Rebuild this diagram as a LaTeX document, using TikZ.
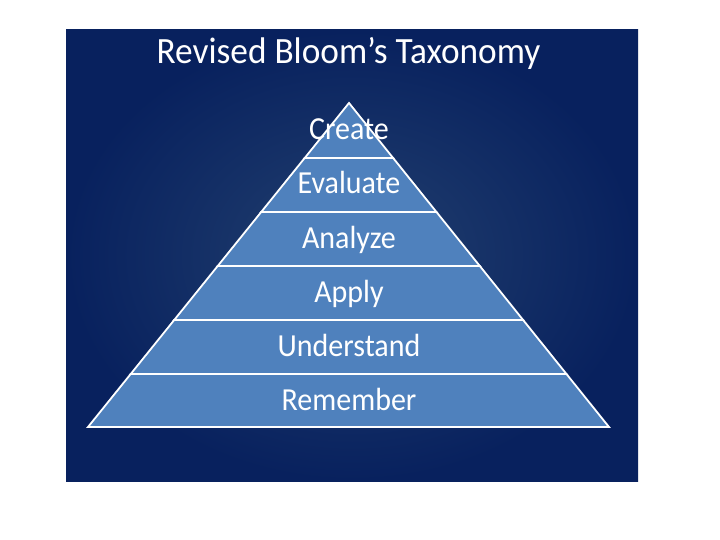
\documentclass[tikz,border=0pt]{standalone}
\usepackage{fontspec}
\setmainfont{Carlito}
\usetikzlibrary{calc}
\definecolor{bgout}{HTML}{08215E}
\definecolor{bgin}{HTML}{22406F}
\definecolor{pyr}{HTML}{4F81BD}
\tikzset{
  layer/.style={fill=pyr,draw=white,line width=1.8pt,line join=miter},
  lbl/.style={text=white,font=\fontsize{30}{31}\selectfont,anchor=base,yscale=1.07,inner sep=0pt},
  ttl/.style={text=white,font=\fontsize{35.3}{36}\selectfont,anchor=base,yscale=1.05,inner sep=0pt}
}
\begin{document}
\begin{tikzpicture}[x=1pt,y=-1pt]
\useasboundingbox (0,0) rectangle (720,540);
\fill[white] (0,0) rectangle (720,540);
\shade[inner color=bgin,outer color=bgout] (66,30) rectangle (638,481);
\node[ttl] (title) at (348.5,63.3) {Revised Bloom’s Taxonomy};
% pyramid layers: apex (349,103), base (88,427)-(609,427)
\coordinate (apex) at (349,103);
\coordinate (bl) at (88,427);
\coordinate (br) at (609,427);
\foreach \i/\ya/\yb in {0/103/158,1/158/212,2/212/266,3/266/320,4/320/374,5/374/427}{
  \pgfmathsetmacro{\ta}{(\ya-103)/324}
  \pgfmathsetmacro{\tb}{(\yb-103)/324}
  \ifnum\i=0
    \draw[layer] ($(apex)!\tb!(bl)$) -- (apex) -- ($(apex)!\tb!(br)$) -- cycle;
  \else
    \draw[layer] ($(apex)!\ta!(bl)$) -- ($(apex)!\ta!(br)$) -- ($(apex)!\tb!(br)$) -- ($(apex)!\tb!(bl)$) -- cycle;
  \fi
}
\node[lbl] (l1) at (349,140) {Create};
\node[lbl] (l2) at (349,194) {Evaluate};
\node[lbl] (l3) at (349,248) {Analyze};
\node[lbl] (l4) at (349,302) {Apply};
\node[lbl] (l5) at (349,356) {Understand};
\node[lbl] (l6) at (349,410) {Remember};
\end{tikzpicture}
\end{document}
